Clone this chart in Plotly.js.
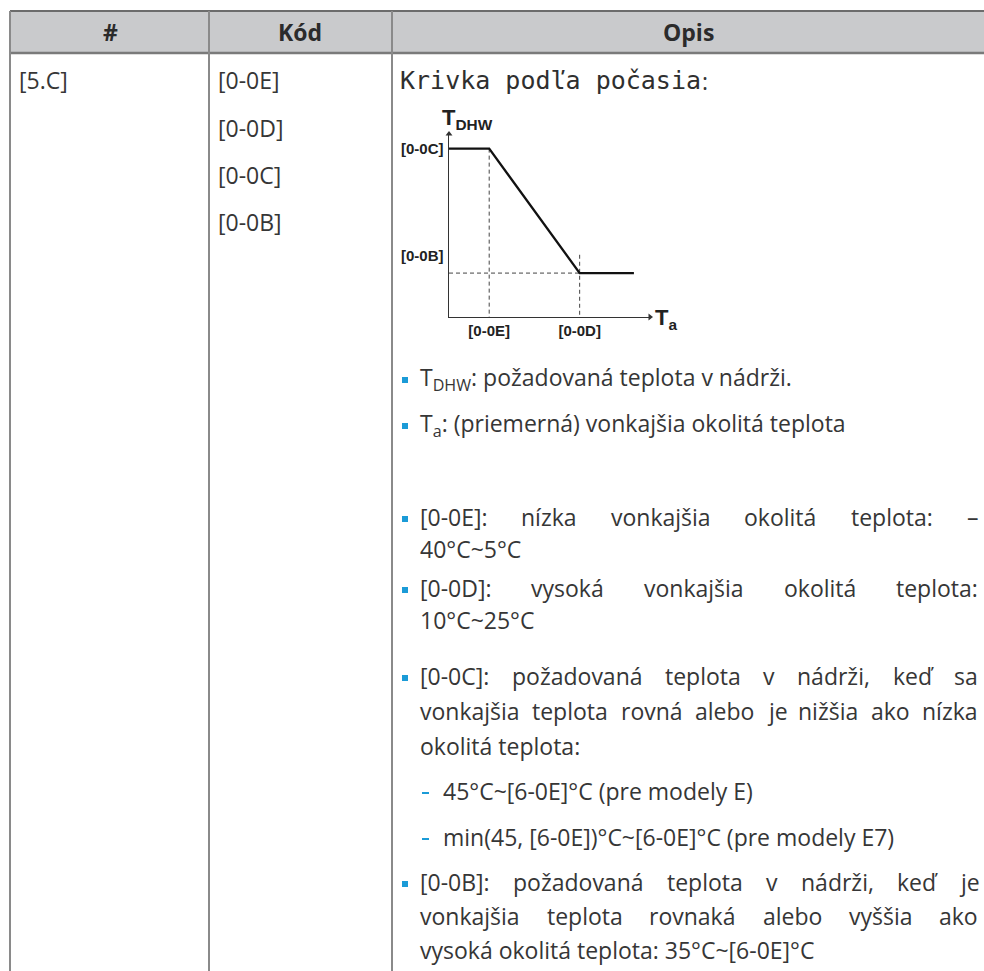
<!DOCTYPE html>
<html><head><meta charset="utf-8">
<script src="https://cdn.plot.ly/plotly-3.0.1.min.js"></script>
<style>html,body{margin:0;padding:0;background:#fff;}#chart{width:984px;height:971px;}</style>
</head><body><div id="chart"></div>
<script>
// ---------- data ----------
const headers = ['#', 'Kód', 'Opis'];
const settingId = ['[5.C]'];
const codes = ['[0-0E]', '[0-0D]', '[0-0C]', '[0-0B]'];
const curveTitle = 'Krivka podľa počasia';
// schematic weather-dependent curve (diagram units)
const curveTa   = [0, 2, 6.5, 9.2];
const curveTdhw = [9.2, 9.2, 2.4, 2.4];
const taTickVals = [2, 6.5];
const taTickText = ['[0-0E]', '[0-0D]'];
const tdhwLabelVals = [9.2, 2.4];
const tdhwLabelText = ['[0-0C]', '[0-0B]'];
const axisMaxTa = 10, axisMaxTdhw = 10;
const paragraphs = [
  {mark: 'sq', lines: ['T<sub>DHW</sub>: požadovaná teplota v nádrži.']},
  {mark: 'sq', lines: ['T<sub>a</sub>: (priemerná) vonkajšia okolitá teplota']},
  {mark: 'sq', lines: ['[0-0E]: nízka vonkajšia okolitá teplota: –', '40°C~5°C']},
  {mark: 'sq', lines: ['[0-0D]: vysoká vonkajšia okolitá teplota:', '10°C~25°C']},
  {mark: 'sq', lines: ['[0-0C]: požadovaná teplota v nádrži, keď sa', 'vonkajšia teplota rovná alebo je nižšia ako nízka', 'okolitá teplota:']},
  {mark: 'dash', lines: ['45°C~[6-0E]°C (pre modely E)']},
  {mark: 'dash', lines: ['min(45, [6-0E])°C~[6-0E]°C (pre modely E7)']},
  {mark: 'sq', lines: ['[0-0B]: požadovaná teplota v nádrži, keď je', 'vonkajšia teplota rovnaká alebo vyššia ako', 'vysoká okolitá teplota: 35°C~[6-0E]°C']}
];

// ---------- layout helpers ----------
const W = 984, H = 971;
const TXT = '#363636', BLUE = '#1b9bd7', GRID = '#8a8a8a';
const BODY = 'Open Sans', MONO = 'DejaVu Sans Mono';
const ctx = document.createElement('canvas').getContext('2d');
function tw(t, size, fam, weight) { ctx.font = (weight || 'normal') + ' ' + size + 'px "' + fam + '"'; return ctx.measureText(t).width; }
let bodySize = 20 * 556 / tw(paragraphs[4].lines[1], 20, BODY);
bodySize = Math.max(17, Math.min(23, bodySize));

const ann = [];
const shapes = [];
function txt(x, y, text, opt) {
  opt = opt || {};
  ann.push(Object.assign({x: x, y: y, xref: 'x', yref: 'y', text: text, showarrow: false,
    xanchor: 'left', yanchor: 'middle', borderpad: 0, borderwidth: 0,
    font: {family: BODY, size: bodySize, color: TXT}}, opt));
}
function hline(x0, x1, y, color, w) { shapes.push({type: 'line', xref: 'x', yref: 'y', x0: x0, x1: x1, y0: y, y1: y, line: {color: color, width: w}}); }
function vline(x, y0, y1, color, w) { shapes.push({type: 'line', xref: 'x', yref: 'y', x0: x, x1: x, y0: y0, y1: y1, line: {color: color, width: w}}); }

// table frame
shapes.push({type: 'rect', xref: 'x', yref: 'y', x0: 10, x1: W, y0: 11, y1: 53, fillcolor: '#c9cacc', line: {width: 0}, layer: 'below'});
hline(10, W, 11, '#6c6c6c', 2);
hline(10, W, 53, '#7a7a7a', 2.4);
[10, 209, 392].forEach(x => vline(x, 11, H, GRID, 2));

// header
const headerCenters = [110, 300, 688];
headers.forEach((h, i) => txt(headerCenters[i], 32, h, {xanchor: 'center', font: {family: 'Open Sans', size: 23, color: '#2b2b2b', weight: 'bold'}}));

// left columns
txt(19, 80, settingId[0]);
const codeRowY = [80, 128, 175, 222];
codes.forEach((c, i) => txt(218, codeRowY[i], c));

// curve title (monospace) + colon
const monoSize = 25;
txt(400, 80, curveTitle, {font: {family: MONO, size: monoSize, color: '#2f2f2f'}});
txt(400 + tw(curveTitle, monoSize, MONO) + 1, 81, ':');

// bullet paragraphs
const lineY = [[378], [424], [517, 549], [588, 620], [676, 711, 746], [791], [837], [882, 916, 950]];
const X0 = 420, X1 = 978;
paragraphs.forEach((p, pi) => {
  const ys = lineY[pi];
  const tx = p.mark === 'dash' ? 443 : X0;
  if (p.mark === 'sq') {
    shapes.push({type: 'rect', xref: 'x', yref: 'y', x0: 402, x1: 408, y0: ys[0] - 1, y1: ys[0] + 5, fillcolor: BLUE, line: {width: 0}});
  } else {
    shapes.push({type: 'rect', xref: 'x', yref: 'y', x0: 422, x1: 429, y0: ys[0] + 1, y1: ys[0] + 3, fillcolor: BLUE, line: {width: 0}});
  }
  p.lines.forEach((line, li) => {
    const y = ys[li];
    const justify = li < p.lines.length - 1;
    if (!justify) { txt(tx, y, line); return; }
    const words = line.split(' ');
    const ws = words.map(w => tw(w, bodySize, BODY));
    const total = ws.reduce((a, b) => a + b, 0);
    const gap = (X1 - tx - total) / (words.length - 1);
    let x = tx;
    words.forEach((w, wi) => { txt(x, y, w); x += ws[wi] + gap; });
  });
});

// ---------- diagram (own axes) ----------
const dx0 = 449, dx1 = 650, dyBottom = 317, dyTop = 134;
const E = taTickVals[0], D = taTickVals[1], C = tdhwLabelVals[0], B = tdhwLabelVals[1];
const dashStyle = {color: '#444', width: 1, dash: '4px,3px'};
const traces = [
  {x: [E, E], y: [C, 0], xaxis: 'x2', yaxis: 'y2', mode: 'lines', line: dashStyle, hoverinfo: 'skip'},
  {x: [D, D], y: [B + 1, 0], xaxis: 'x2', yaxis: 'y2', mode: 'lines', line: dashStyle, hoverinfo: 'skip'},
  {x: [0, D], y: [B, B], xaxis: 'x2', yaxis: 'y2', mode: 'lines', line: dashStyle, hoverinfo: 'skip'},
  {x: curveTa, y: curveTdhw, xaxis: 'x2', yaxis: 'y2', mode: 'lines', line: {color: '#111', width: 2.3}, hoverinfo: 'skip'},
  // arrowheads at the axis ends
  {x: [axisMaxTa, 0], y: [0, axisMaxTdhw], xaxis: 'x2', yaxis: 'y2', mode: 'markers', cliponaxis: false, hoverinfo: 'skip',
   marker: {symbol: ['triangle-right', 'triangle-up'], size: 6, color: '#333', line: {width: 0}}}
];
const dfont = {family: 'Liberation Sans, Arial', size: 15, color: '#222', weight: 'bold'};
// axis titles
ann.push({x: 0, y: axisMaxTdhw, xref: 'x2', yref: 'y2', text: 'T<sub>DHW</sub>', showarrow: false, xanchor: 'left', yanchor: 'bottom', xshift: -8, yshift: 0, borderpad: 0, font: Object.assign({}, dfont, {size: 22})});
ann.push({x: axisMaxTa, y: 0, xref: 'x2', yref: 'y2', text: 'T<sub>a</sub>', showarrow: false, xanchor: 'left', yanchor: 'middle', xshift: 4, yshift: -2, borderpad: 0, font: Object.assign({}, dfont, {size: 22})});
// y-level labels
tdhwLabelText.forEach((t, i) => ann.push({x: 0, y: tdhwLabelVals[i], xref: 'x2', yref: 'y2', text: t, showarrow: false, xanchor: 'right', yanchor: 'middle', xshift: -4, yshift: i === 1 ? 18 : 0, borderpad: 0, font: dfont}));

const layout = {
  width: W, height: H, margin: {l: 0, r: 0, t: 0, b: 0}, showlegend: false,
  paper_bgcolor: '#fff', plot_bgcolor: 'rgba(0,0,0,0)',
  xaxis: {range: [0, W], domain: [0, 1], visible: false, fixedrange: true},
  yaxis: {range: [H, 0], domain: [0, 1], visible: false, fixedrange: true},
  xaxis2: {domain: [dx0 / W, dx1 / W], anchor: 'y2', range: [0, axisMaxTa], showgrid: false, zeroline: false,
           showline: true, linecolor: '#333', linewidth: 1,
           tickvals: taTickVals, ticktext: taTickText, ticks: '', tickfont: dfont},
  yaxis2: {domain: [1 - dyBottom / H, 1 - dyTop / H], anchor: 'x2', range: [0, axisMaxTdhw], showgrid: false, zeroline: false,
           showline: true, linecolor: '#333', linewidth: 1, showticklabels: false, ticks: ''},
  shapes: shapes, annotations: ann
};
Plotly.newPlot('chart', traces, layout, {displayModeBar: false, staticPlot: true});
</script></body></html>
